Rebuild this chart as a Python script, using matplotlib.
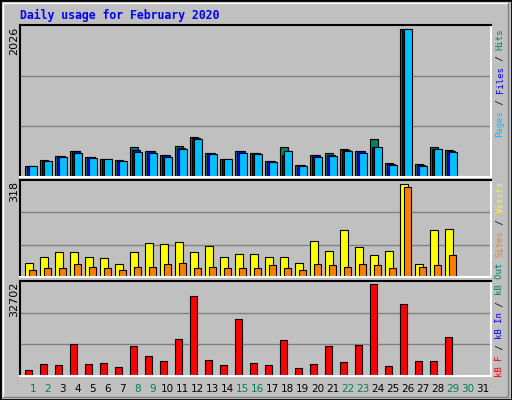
import matplotlib
matplotlib.use("Agg")
import matplotlib.pyplot as plt
from matplotlib.lines import Line2D

days = list(range(1, 30))
hits = [152,228,286,353,272,241,228,406,353,299,419,531,326,241,353,326,219,406,165,299,326,379,353,500,192,1968,178,406,366]
files = [152,219,277,344,263,241,219,366,344,290,393,522,317,241,344,321,210,295,165,290,299,366,344,406,178,1968,165,379,344]
pages = [152,214,272,321,254,241,214,339,326,272,379,513,308,241,326,308,201,353,152,272,286,348,326,406,165,1968,152,379,339]
visits = [47,64,81,81,67,61,41,81,110,107,114,81,100,67,74,74,64,64,47,117,84,153,97,71,84,306,41,153,157]
sites = [24,28,31,41,34,28,24,34,34,41,47,31,34,31,28,28,38,31,24,41,38,34,41,38,31,296,34,38,71]
kbytes = [2188,4260,3915,11169,4260,4606,3224,10478,7024,5297,12896,27405,5642,3915,19460,4606,3915,12551,2879,4260,10478,4951,10824,31550,3570,24641,5297,5297,13587]
day_labels = [str(d) for d in range(1, 32)]
weekend = {1,2,8,9,15,16,22,23,29,30}
max_hits, max_visits, max_kb = 2026, 318, 32702

W, H = 512, 400
BG = "#C0C0C0"
fig = plt.figure(figsize=(W/100, H/100), dpi=100, facecolor=BG)

def fx(px): return px / W
def fy(py): return 1 - py / H

# outer bevel border
fig.add_artist(Line2D([0, 1, 1, 0, 0], [0, 0, 1, 1, 0], transform=fig.transFigure, color="black", lw=2))
fig.add_artist(Line2D([fx(3), fx(3), fx(508)], [fy(397), fy(3), fy(3)], transform=fig.transFigure, color="white", lw=1))
fig.add_artist(Line2D([fx(3), fx(508), fx(508)], [fy(397), fy(397), fy(3)], transform=fig.transFigure, color="#808080", lw=1))

L, R = 20, 491
XMAX = (R - L) / 15.0

def panel(top, bottom, ymax):
    ax = fig.add_axes([fx(L), fy(bottom), fx(R - L), (bottom - top) / H])
    ax.set_facecolor(BG)
    ax.set_xlim(0, XMAX)
    ax.set_ylim(0, ymax)
    for y in (ymax / 3, 2 * ymax / 3):
        ax.axhline(y, color="#808080", lw=1, zorder=0)
    ax.set_xticks([]); ax.set_yticks([])
    for s in ("left", "top"):
        ax.spines[s].set_color("black"); ax.spines[s].set_linewidth(1.5)
    for s in ("right", "bottom"):
        ax.spines[s].set_color("white"); ax.spines[s].set_linewidth(1.5)
    return ax

ax1 = panel(25, 177, max_hits)
ax2 = panel(180, 277, max_visits)
ax3 = panel(281, 376, max_kb)

x0 = [d - 1 + 0.333 for d in days]
kw = dict(align="edge", edgecolor="black", linewidth=0.8)
ax1.bar(x0, hits, width=0.55, color="#00805C", **kw)
ax1.bar([x + 2/15 for x in x0], files, width=0.55, color="#0000FF", **kw)
ax1.bar([x + 4/15 for x in x0], pages, width=0.55, color="#00C0FF", **kw)
ax2.bar(x0, visits, width=0.55, color="#FFFF00", **kw)
ax2.bar([x + 4/15 for x in x0], sites, width=0.5, color="#FF8000", **kw)
ax3.bar(x0, kbytes, width=0.5, color="#FF0000", **kw)

# title
fig.text(fx(20), fy(15), "Daily usage for February 2020", family="DejaVu Sans Mono",
         weight="bold", fontsize=8.3, color="#0000FF", va="center", ha="left")

# left max labels
for top, txt in ((27, str(max_hits)), (181, str(max_visits)), (282, str(max_kb))):
    fig.text(fx(14), fy(top), txt, rotation=90, rotation_mode="anchor",
             ha="right", va="center", fontsize=8, color="black", family="DejaVu Sans")

# day labels
for i, lab in enumerate(day_labels):
    d = i + 1
    xp = L + (d - 1 + 0.85) * 15
    fig.text(fx(xp), fy(389), lab, ha="center", va="center", fontsize=7.5,
             color="#008060" if d in weekend else "black", family="DejaVu Sans")

# right colored legends
def vlegend(pieces, ybottom, xc=500, step=5.45):
    y = ybottom
    for txt, col in pieces:
        fig.text(fx(xc), fy(y), txt, rotation=90, rotation_mode="anchor", ha="left",
                 va="center", fontsize=6.5, color=col, family="DejaVu Sans Mono")
        y -= step * len(txt)

vlegend([("Pages", "#00C0FF"), (" / ", "black"), ("Files", "#0000FF"),
         (" / ", "black"), ("Hits", "#008060")], 137)
vlegend([("kB F", "#FF0000"), (" / ", "black"), ("kB In", "#0000FF"), (" / ", "black"),
         ("kB Out", "#008060"), (" ", "black"), ("Sites", "#FF8000"), (" / ", "black"),
         ("Visits", "#FFFF00")], 377)

fig.savefig("out.png", dpi=100, facecolor=BG)
